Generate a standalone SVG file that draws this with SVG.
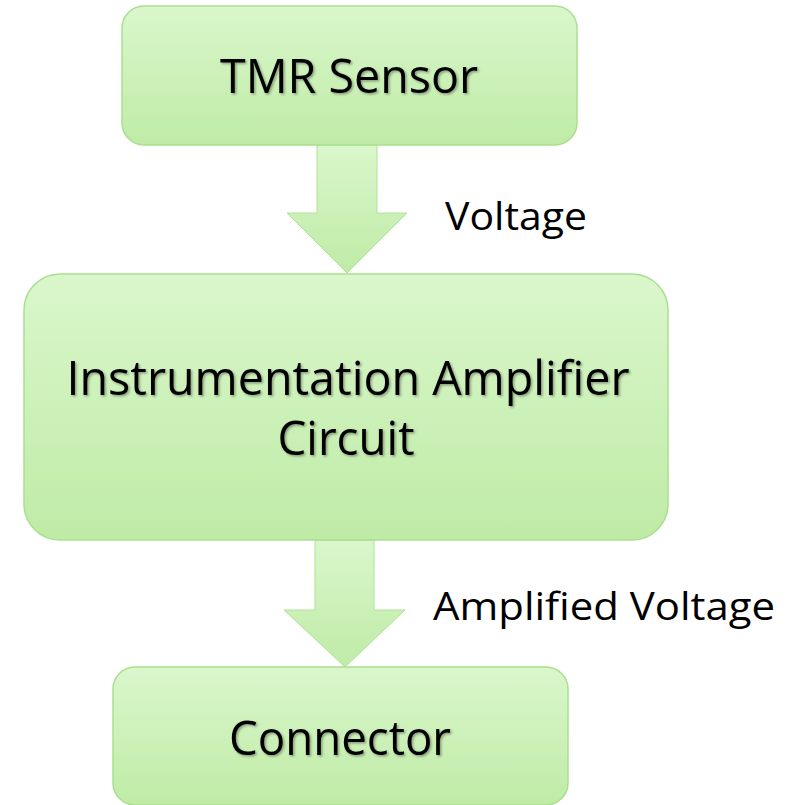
<svg xmlns="http://www.w3.org/2000/svg" width="799" height="805" viewBox="0 0 799 805">
<defs>
<linearGradient id="g" x1="0" y1="0" x2="0" y2="1">
<stop offset="0" stop-color="#daf7cc"/>
<stop offset="1" stop-color="#bfeba6"/>
</linearGradient>
<filter id="sh" x="-5%" y="-20%" width="110%" height="140%">
<feDropShadow dx="1.5" dy="1.5" stdDeviation="1" flood-color="#000" flood-opacity="0.35"/>
</filter>
<style>
.box{fill:url(#g);stroke:#a9df8e;stroke-width:1.5}
.arr{fill:url(#g);stroke:#b0e296;stroke-width:1}
.t{font-family:"Open Sans","Liberation Sans",sans-serif;fill:#000;text-anchor:middle}
.big{font-size:47px;filter:url(#sh)}
.lbl{font-size:39px;text-anchor:start}
</style>
</defs>
<rect width="799" height="805" fill="#fff"/>
<g id="connectors">
<path class="arr" d="M317,145 H377 V213 H407 L347,273 L287,213 H317 Z"/>
<path class="arr" d="M315,540 H374 V610 H405 L345,667 L284,610 H315 Z"/>
<text class="t lbl" x="445" y="230" textLength="142" lengthAdjust="spacingAndGlyphs">Voltage</text>
<text class="t lbl" x="433" y="620" textLength="342" lengthAdjust="spacingAndGlyphs">Amplified Voltage</text>
</g>
<g id="tmr">
<rect class="box" x="122" y="6" width="455" height="139" rx="22"/>
<text class="t big" x="349" y="93" textLength="258" lengthAdjust="spacingAndGlyphs">TMR Sensor</text>
</g>
<g id="amp">
<rect class="box" x="24" y="274" width="644" height="266" rx="36"/>
<text class="t big" x="348" y="395" textLength="563" lengthAdjust="spacingAndGlyphs">Instrumentation Amplifier</text>
<text class="t big" x="346" y="455" textLength="137" lengthAdjust="spacingAndGlyphs">Circuit</text>
</g>
<g id="connector">
<rect class="box" x="113" y="667" width="455" height="138" rx="22"/>
<text class="t big" x="340" y="755" textLength="222" lengthAdjust="spacingAndGlyphs">Connector</text>
</g>
</svg>
